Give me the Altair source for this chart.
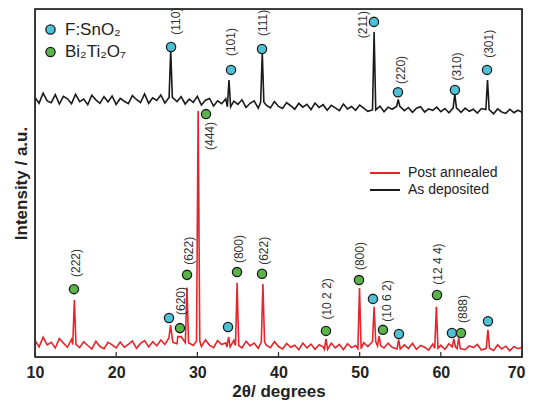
import altair as alt
import pandas as pd

# ---------------- data ----------------
grid_start = 10.0
grid_step = 0.5

# Post-annealed (red) background, one value every 0.5 deg from 10 to 70
red_base = [
    4.8, 2.9, 5.7, 3.5, 4.2, 2.6, 5.3, 4.0, 2.8, 5.1, 3.6,
    2.7, 4.4, 3.3, 2.3, 4.5, 3.0, 2.4, 4.2, 3.5, 2.6,
    4.3, 2.8, 3.6, 4.6, 2.5, 3.9, 4.7, 2.9, 4.4, 3.2,
    4.9, 3.6, 5.5, 4.2, 3.8, 5.9, 4.1, 5.2, 3.3, 4.6,
    3.0, 4.9, 3.4, 2.7, 4.7, 3.6, 4.1, 2.9, 4.8, 3.3,
    2.6, 4.5, 3.2, 4.0, 2.5, 4.3, 3.4, 2.7, 4.4, 3.0,
    2.3, 3.9, 2.8, 3.4, 2.1, 4.0, 2.6, 3.7, 2.2, 3.5,
    2.9, 2.2, 4.0, 2.6, 3.6, 2.1, 3.8, 2.7, 3.3, 2.4,
    4.1, 3.0, 2.5, 4.4, 3.2, 2.6, 4.0, 2.8, 3.7, 2.3,
    3.5, 2.4, 3.9, 2.2, 3.3, 2.8, 2.0, 3.7, 2.5, 3.4,
    2.2, 3.8, 2.9, 2.4, 3.9, 2.1, 3.2, 2.7, 3.6, 2.0,
    3.3, 2.5, 1.9, 3.5, 2.3, 3.1, 1.8, 3.0, 2.4, 2.8,
]

# As-deposited (black) background, same grid
black_base = [
    74.6, 72.9, 75.8, 73.6, 73.1, 75.4, 72.7, 74.9, 74.2, 72.8, 75.5,
    73.4, 74.1, 72.5, 75.2, 73.9, 72.9, 74.8, 73.3, 75.0, 72.6,
    74.3, 73.5, 72.8, 75.1, 74.0, 73.1, 75.6, 72.9, 74.5, 73.7,
    75.3, 73.0, 74.6, 75.5, 73.4, 74.8, 72.7, 74.1, 73.2, 74.9,
    72.4, 73.8, 74.3, 72.1, 73.6, 72.8, 74.2, 71.9, 73.5, 72.6,
    73.9, 71.7, 72.9, 73.6, 71.5, 73.2, 72.4, 71.6, 73.4, 72.0,
    71.4, 73.1, 72.2, 71.2, 72.9, 71.8, 72.6, 71.1, 73.0, 71.7,
    72.5, 70.9, 72.3, 71.6, 70.8, 72.7, 71.3, 72.0, 70.9, 72.4,
    71.5, 70.6, 72.2, 71.0, 72.1, 70.5, 71.8, 71.2, 70.7, 72.0,
    70.8, 71.7, 70.3, 71.5, 71.9, 70.4, 71.3, 70.9, 71.8, 70.5,
    71.4, 70.2, 71.6, 70.8, 70.3, 71.5, 70.6, 71.2, 70.1, 71.4,
    70.5, 71.1, 69.9, 71.3, 70.4, 70.0, 71.2, 70.2, 70.9, 70.3,
]

red_peak_x = [14.85, 26.7, 27.8, 28.72, 30.1, 33.85, 34.9, 38.08, 45.85, 49.98, 51.78, 52.4, 54.8, 59.45, 61.6, 62.2, 65.8]
red_peak_y = [16.4, 9.2, 5.8, 20.0, 70.7, 5.8, 21.3, 21.0, 5.2, 19.8, 14.4, 6.0, 5.0, 14.4, 5.2, 5.4, 7.8]

black_peak_x = [26.72, 33.9, 38.0, 51.78, 54.75, 61.72, 65.75]
black_peak_y = [88.2, 79.6, 87.4, 93.4, 74.0, 75.6, 79.6]

series_names = ["Post annealed", "As deposited"]
series_colors = ["#e8232a", "#1a1a1a"]

phase_names = ["F:SnO\u2082", "Bi\u2082Ti\u2082O\u2087"]
phase_colors = ["#4fc1d6", "#5ab548"]

sno2_x = [26.76, 34.15, 37.97, 51.76, 54.72, 61.74, 65.69, 26.51, 33.78, 51.64, 54.84, 61.37, 65.81]
sno2_y = [89.1, 82.5, 88.5, 96.3, 76.1, 76.7, 82.5, 11.2, 8.6, 16.7, 6.6, 6.9, 10.3]

bto_x = [14.80, 27.86, 28.73, 31.07, 34.89, 37.97, 45.85, 49.92, 52.87, 59.53, 62.48]
bto_y = [19.5, 8.3, 23.6, 69.8, 24.4, 23.9, 7.5, 22.1, 7.8, 17.8, 6.9]

label_text = ["(110)", "(101)", "(111)", "(211)", "(220)", "(310)", "(301)",
              "(222)", "(620)", "(622)", "(444)", "(800)", "(622)", "(10 2 2)",
              "(800)", "(10 6 2)", "(12 4 4)", "(888)"]
label_x = [27.37, 34.15, 38.09, 50.41, 55.09, 61.99, 65.93,
           15.05, 27.99, 28.97, 31.56, 35.13, 38.21, 45.97,
           50.04, 53.37, 59.65, 62.73]
label_y = [96.5, 90.5, 96.0, 95.5, 82.5, 83.5, 90.0,
           27.0, 16.1, 30.5, 63.5, 31.0, 30.5, 16.7,
           29.0, 16.1, 26.7, 13.8]

x_ticks = [10, 20, 30, 40, 50, 60, 70]
x_domain = [10, 70]
y_domain = [0, 100]
tick_len = 1.45  # inner tick length, in intensity units


# ---------------- tables ----------------
def trace(base, px, py, name):
    xs = [grid_start + grid_step * i for i in range(len(base))]
    pts = [(x, b) for x, b in zip(xs, base) if all(abs(x - c) > 0.3 for c in px)]
    for c, h in zip(px, py):
        j = int(round((c - grid_start) / grid_step))
        b = base[j]
        pts += [(c - 0.2, b), (c, h), (c + 0.2, b)]
    pts.sort()
    return pd.DataFrame({"theta": [p[0] for p in pts], "I": [p[1] for p in pts], "series": name})


lines_df = pd.concat([
    trace(black_base, black_peak_x, black_peak_y, series_names[1]),
    trace(red_base, red_peak_x, red_peak_y, series_names[0]),
], ignore_index=True)

markers_df = pd.concat([
    pd.DataFrame({"theta": sno2_x, "I": sno2_y, "phase": phase_names[0]}),
    pd.DataFrame({"theta": bto_x, "I": bto_y, "phase": phase_names[1]}),
], ignore_index=True)

labels_df = pd.DataFrame({"theta": label_x, "I": label_y, "txt": label_text})

# plot frame (the data rectangle) and the inner ticks on its bottom edge
frame_df = pd.DataFrame({
    "theta": [x_domain[0], x_domain[1], x_domain[1], x_domain[0], x_domain[0]],
    "I": [y_domain[0], y_domain[0], y_domain[1], y_domain[1], y_domain[0]],
    "k": [0, 1, 2, 3, 4],
})
ticks_df = pd.DataFrame({
    "theta": [t for t in x_ticks for _ in (0, 1)],
    "I": [v for _ in x_ticks for v in (y_domain[0], y_domain[0] + tick_len)],
    "tick": [t for t in x_ticks for _ in (0, 1)],
})

FONT = "Liberation Sans"
FRAME = "#2a2a2a"

x_scale = alt.Scale(domain=x_domain, nice=False, zero=False)
y_scale = alt.Scale(domain=y_domain, nice=False, zero=False)

axis_text = dict(
    labelFont=FONT, labelFontSize=16, labelFontWeight="bold", labelColor="#222222",
    grid=False, ticks=False, domain=False, labelPadding=7,
    labelFlush=False, labelOverlap=False, format="d", zindex=1,
)

# bottom axis: labels 10..60 and title
x_axis_main = alt.Axis(
    orient="bottom", values=x_ticks[:-1], title="2\u03b8/ degrees",
    titleFont=FONT, titleFontSize=17, titleFontWeight="bold", titleColor="#222222",
    titlePadding=3, **axis_text,
)
# last label, kept inside the page
x_axis_last = alt.Axis(
    orient="bottom", values=x_ticks[-1:], title=None, labelAlign="right", labelOffset=3,
    **axis_text,
)
y_axis_left = alt.Axis(
    orient="left", labels=False, ticks=False, grid=False, domain=False,
    title="Intensity / a.u.",
    titleFont=FONT, titleFontSize=17, titleFontWeight="bold", titleColor="#222222",
    titlePadding=5, zindex=1,
)

lines = alt.Chart(lines_df).mark_line(strokeWidth=1.6, strokeJoin="miter").encode(
    x=alt.X("theta:Q", scale=x_scale, axis=x_axis_main),
    y=alt.Y("I:Q", scale=y_scale, axis=y_axis_left),
    color=alt.Color(
        "series:N",
        scale=alt.Scale(domain=series_names, range=series_colors),
        legend=alt.Legend(
            orient="none", legendX=343, legendY=157, title=None, padding=0,
            symbolType="M-3,0H3", symbolSize=100, symbolStrokeWidth=2,
            labelFont=FONT, labelFontSize=14, labelColor="#222222",
            labelOffset=16, rowPadding=3,
        ),
    ),
    detail="series:N",
)

points = alt.Chart(markers_df).mark_point(
    shape="circle", filled=True, size=85, stroke="#1a1a1a", strokeWidth=1.3, opacity=1
).encode(
    x=alt.X("theta:Q", scale=x_scale, axis=x_axis_last),
    y=alt.Y("I:Q", scale=y_scale, axis=None),
    fill=alt.Fill(
        "phase:N",
        scale=alt.Scale(domain=phase_names, range=phase_colors),
        legend=alt.Legend(
            orient="none", legendX=7, legendY=12, title=None, padding=0,
            symbolType="circle", symbolSize=85, symbolStrokeColor="#1a1a1a",
            symbolStrokeWidth=1.3, symbolOpacity=1,
            labelFont=FONT, labelFontSize=17, labelColor="#222222",
            labelOffset=6, rowPadding=4.5,
        ),
    ),
)

labels = alt.Chart(labels_df).mark_text(
    angle=270, align="center", baseline="middle", font=FONT, fontSize=12, color="#333333"
).encode(
    x=alt.X("theta:Q", scale=x_scale, axis=None),
    y=alt.Y("I:Q", scale=y_scale, axis=None),
    text="txt:N",
)

# frame and ticks drawn last, on top of everything else
frame = alt.Chart(frame_df).mark_line(
    color=FRAME, strokeWidth=1.5, strokeJoin="miter", opacity=1
).encode(
    x=alt.X("theta:Q", scale=x_scale, axis=None),
    y=alt.Y("I:Q", scale=y_scale, axis=None),
    order="k:Q",
)

ticks = alt.Chart(ticks_df).mark_line(color=FRAME, strokeWidth=1.2, opacity=1).encode(
    x=alt.X("theta:Q", scale=x_scale, axis=None),
    y=alt.Y("I:Q", scale=y_scale, axis=None),
    detail="tick:N",
)

chart = alt.layer(lines, points, labels, frame, ticks).resolve_axis(
    x="independent", y="independent"
).properties(
    width=487, height=348,
    autosize=alt.AutoSizeParams(type="none"),
    padding={"left": 27, "top": 1, "right": 4, "bottom": 43},
    background="white",
).configure_view(
    stroke=FRAME, strokeWidth=1.4
)

chart.save("out.html", embed_options={"renderer": "svg", "actions": False})
